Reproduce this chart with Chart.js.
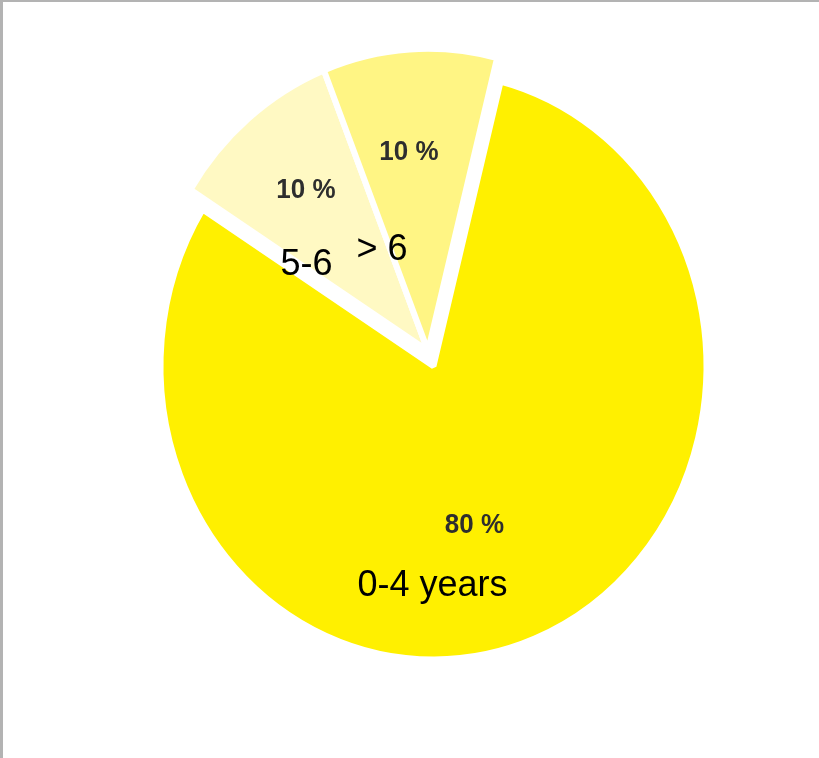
<!DOCTYPE html>
<html>
<head>
<meta charset="utf-8">
<title>Age groups</title>
<script src="https://cdn.jsdelivr.net/npm/chart.js@4.4.1/dist/chart.umd.min.js"></script>
<style>
  html, body { margin: 0; padding: 0; background: #fff; }
  #frame {
    position: absolute; left: 0; top: 0;
    width: 816px; height: 756px;
    border-left: 3px solid #b3b3b3;
    border-top: 2px solid #b3b3b3;
  }
  canvas { display: block; }
</style>
</head>
<body>
<div id="frame"><canvas id="ageChart" width="816" height="756"></canvas></div>
<script>
// data
const ageGroups = ["0-4 years", "5-6", "> 6"];
const shares = [80, 10, 10];
const shareLabels = ["80 %", "10 %", "10 %"];
const sliceColors = ["#FFF000", "#FFF9C3", "#FFF584"];

// the original picture is a bit taller than wide
const STRETCH_Y = 1.076;
// the two small slices are pulled out together
const explode = { distance: 15, grow: 8 };

// label anchors, px from pie centre (centre x, baseline y)
const pctSpots = [[41, 167], [-127.5, -168], [-24.5, -206]];
const nameSpots = [[-1, 230], [-127, -91], [-51.5, -106]];

const explodePlugin = {
  id: "explode",
  afterDatasetUpdate(chart) {
    const arcs = chart.getDatasetMeta(0).data;
    const group = arcs.slice(1);
    const mid = (group[0].startAngle + group[group.length - 1].endAngle) / 2;
    group.forEach(arc => {
      arc.x += Math.cos(mid) * explode.distance;
      arc.y += Math.sin(mid) * explode.distance;
      arc.outerRadius += explode.grow;
    });
  }
};

const labelPlugin = {
  id: "labels",
  beforeDatasetsDraw(chart) {
    const c = chart.getDatasetMeta(0).data[0];
    const ctx = chart.ctx;
    ctx.save();
    ctx.translate(c.x, c.y);
    ctx.scale(1, STRETCH_Y);
    ctx.translate(-c.x, -c.y);
  },
  afterDatasetsDraw(chart) {
    const ctx = chart.ctx;
    ctx.restore();
    const c = chart.getDatasetMeta(0).data[0];
    ctx.save();
    ctx.textAlign = "center";
    ctx.textBaseline = "alphabetic";

    ctx.fillStyle = "#2e2e2e";
    ctx.font = "bold 26px 'Liberation Sans', Arial, sans-serif";
    shareLabels.forEach((t, i) => {
      const [dx, dy] = pctSpots[i];
      ctx.save();
      ctx.translate(c.x + dx, c.y + dy);
      ctx.scale(1, STRETCH_Y);
      ctx.fillText(t, 0, 0);
      ctx.restore();
    });

    ctx.fillStyle = "#000";
    ctx.font = "36px 'Liberation Sans', Arial, sans-serif";
    ageGroups.forEach((t, i) => {
      const [dx, dy] = nameSpots[i];
      ctx.fillText(t, c.x + dx, c.y + dy);
    });
    ctx.restore();
  }
};

new Chart(document.getElementById("ageChart"), {
  type: "pie",
  data: {
    labels: ageGroups,
    datasets: [{
      data: shares,
      backgroundColor: sliceColors,
      borderColor: "#fff",
      borderWidth: 6,
      clip: false
    }]
  },
  options: {
    responsive: false,
    animation: false,
    events: [],
    rotation: 14.25,
    radius: 273,
    layout: { padding: { left: 45, right: 0, top: 0, bottom: 28 } },
    plugins: {
      legend: { display: false },
      tooltip: { enabled: false }
    }
  },
  plugins: [explodePlugin, labelPlugin]
});
</script>
</body>
</html>
